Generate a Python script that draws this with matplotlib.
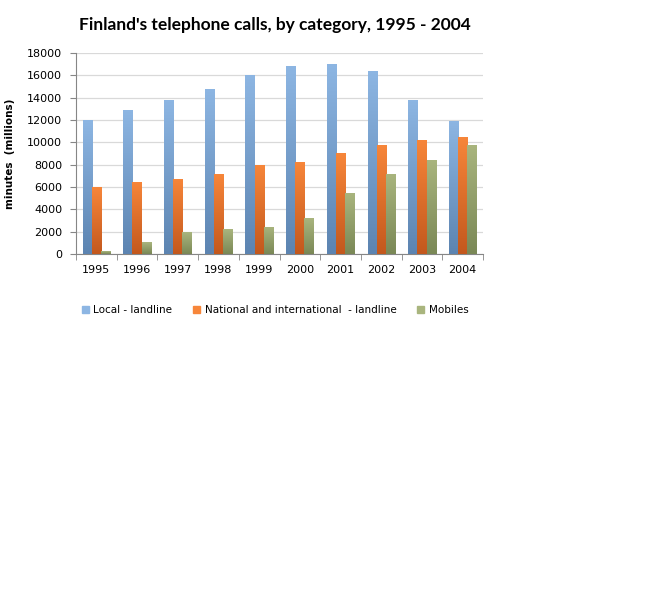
import numpy as np
import matplotlib
matplotlib.use("Agg")
import matplotlib.pyplot as plt
from matplotlib.colors import LinearSegmentedColormap

years = ["1995", "1996", "1997", "1998", "1999", "2000", "2001", "2002", "2003", "2004"]
local_landline = [12000, 12900, 13800, 14800, 16000, 16800, 17000, 16400, 13800, 11950]
national_landline = [5960, 6480, 6750, 7200, 8000, 8200, 9000, 9800, 10250, 10500]
mobiles = [230, 1040, 1930, 2200, 2450, 3200, 5500, 7200, 8450, 9800]

series_names = ["Local - landline", "National and international  - landline", "Mobiles"]
# (top colour, bottom colour) of each bar gradient
gradients = [("#8DB6E3", "#5C84B1"), ("#F7863A", "#C3581D"), ("#A9B57E", "#7A8856")]

fig = plt.figure(figsize=(6.71, 5.99), dpi=100)
ax = fig.add_axes([0.1133, 0.576, 0.6065, 0.3355])

x = np.arange(len(years))
width = 0.225
offsets = [-width, 0, width]

grad = np.linspace(1, 0, 256).reshape(-1, 1)
for values, name, (top, bottom), off in zip([local_landline, national_landline, mobiles],
                                           series_names, gradients, offsets):
    cmap = LinearSegmentedColormap.from_list(name, [bottom, top])
    bars = ax.bar(x + off, values, width, color=top, label=name, zorder=2, linewidth=0)
    for b in bars:
        bx, by = b.get_x(), b.get_y()
        bw, bh = b.get_width(), b.get_height()
        im = ax.imshow(grad, cmap=cmap, aspect="auto", extent=[bx, bx + bw, by, by + bh],
                       zorder=3, vmin=0, vmax=1)
        im.set_clip_path(b)
        b.set_facecolor("none")

ax.set_xlim(-0.5, len(years) - 0.5)
ax.set_ylim(0, 18000)
ax.set_yticks(np.arange(0, 18001, 2000))
ax.set_xticks(x)
ax.set_xticklabels(years)
ax.set_xticks(np.arange(-0.5, len(years)), minor=True)
ax.tick_params(axis="x", which="major", length=0, pad=8, labelsize=8, labelcolor="#000000")
ax.tick_params(axis="x", which="minor", length=4, color="#868686", direction="out")
ax.tick_params(axis="y", length=4, color="#868686", direction="out", labelsize=8, pad=6)
ax.grid(axis="y", color="#D9D9D9", linewidth=0.9, zorder=0)
ax.set_axisbelow(True)
for s in ["top", "right"]:
    ax.spines[s].set_visible(False)
for s in ["left", "bottom"]:
    ax.spines[s].set_color("#868686")
ax.set_ylabel("minutes  (millions)", fontsize=7.5, fontweight="bold", labelpad=9)

fig.text(0.41, 0.958, "Finland's telephone calls, by category, 1995 - 2004",
         ha="center", va="center", fontsize=12.5, fontweight="bold", family="Lato")

handles = [plt.Rectangle((0, 0), 1, 1, color=g[0]) for g in gradients]
fig.legend(handles, series_names, loc="center", bbox_to_anchor=(0.41, 0.482), ncol=3,
           frameon=False, fontsize=7.5, handlelength=0.7, handleheight=0.7,
           handletextpad=0.4, columnspacing=2.0)

fig.savefig("out.png", dpi=100)
